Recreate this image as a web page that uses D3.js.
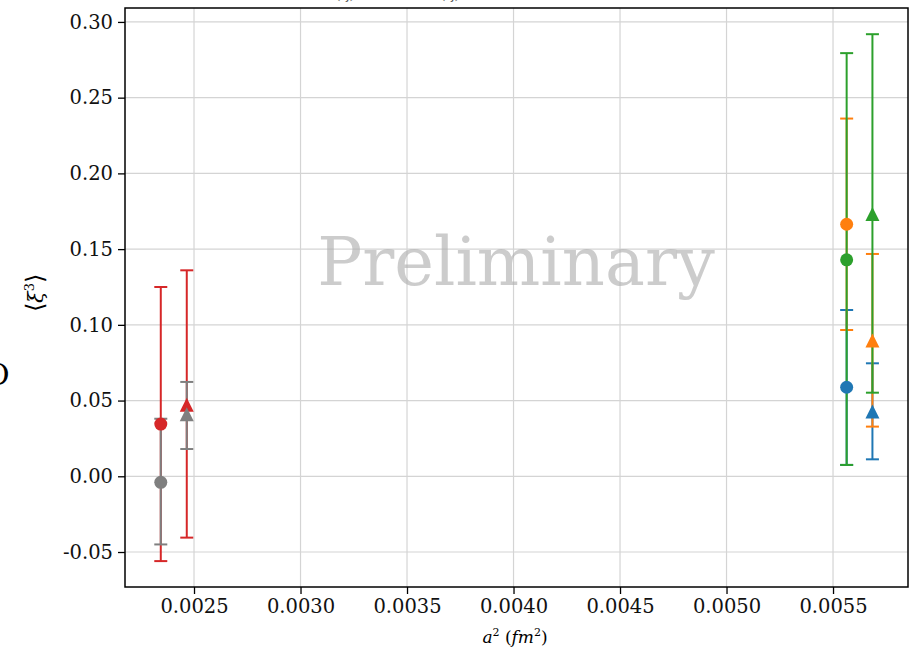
<!DOCTYPE html>
<html lang="en">
  <head>
    <meta charset="UTF-8" />
    <title>xi3 vs a2</title>
    <style>
      body { margin: 0; background: #fff; }
      svg text { font-family: "DejaVu Serif", serif; }
    </style>
  </head>
  <body>
    <script src="https://cdn.jsdelivr.net/npm/d3@7/dist/d3.min.js"></script>
    <script>
    // colours follow the matplotlib cycle: C0, C1, C2, C3, C7
    var colors = ["#1f77b4", "#ff7f0e", "#2ca02c", "#d62728", "#7f7f7f"];

    // circle points
    var circleX  = [0.005564, 0.005564, 0.005564, 0.002344, 0.002344];
    var circleY  = [0.0588, 0.1664, 0.1429, 0.0345, -0.0040];
    var circleLo = [0.0075, 0.0966, 0.0075, -0.0560, -0.0450];
    var circleHi = [0.1098, 0.2362, 0.2794, 0.1250, 0.0380];

    // triangle points
    var triX  = [0.005685, 0.005685, 0.005685, 0.002466, 0.002466];
    var triY  = [0.0427, 0.0896, 0.1732, 0.0472, 0.0410];
    var triLo = [0.0112, 0.0328, 0.0552, -0.0405, 0.0180];
    var triHi = [0.0746, 0.1468, 0.2919, 0.1360, 0.0623];

    var xTicks = [0.0025, 0.0030, 0.0035, 0.0040, 0.0045, 0.0050, 0.0055];
    var yTicks = [-0.05, 0.00, 0.05, 0.10, 0.15, 0.20, 0.25, 0.30];

    var W = 909, H = 657;
    var margin = { top: 8, right: 1, bottom: 70, left: 125 };
    var width = W - margin.left - margin.right;
    var height = H - margin.top - margin.bottom;

    var svg = d3.select("body").append("svg")
                .attr("width", W)
                .attr("height", H);

    var g = svg.append("g")
               .attr("transform", "translate(" + margin.left + "," + margin.top + ")");

    var xScale = d3.scaleLinear()
                   .domain([0.002176, 0.005852])
                   .range([0, width]);

    var yScale = d3.scaleLinear()
                   .domain([-0.0731, 0.3092])
                   .range([height, 0]);

    // grid
    g.append("g").selectAll("line").data(xTicks).enter().append("line")
      .attr("x1", function(d) { return xScale(d); })
      .attr("x2", function(d) { return xScale(d); })
      .attr("y1", 0).attr("y2", height)
      .attr("stroke", "#d4d4d4").attr("stroke-width", 1.2);
    g.append("g").selectAll("line").data(yTicks).enter().append("line")
      .attr("y1", function(d) { return yScale(d); })
      .attr("y2", function(d) { return yScale(d); })
      .attr("x1", 0).attr("x2", width)
      .attr("stroke", "#d4d4d4").attr("stroke-width", 1.2);

    // watermark
    g.append("text")
      .attr("x", 516 - margin.left)
      .attr("y", 285 - margin.top)
      .attr("text-anchor", "middle")
      .attr("font-size", 67)
      .attr("fill", "#b0b0b0")
      .attr("fill-opacity", 0.65)
      .text("Preliminary");

    // build rows
    var rows = [];
    colors.forEach(function(c, i) {
      rows.push({ c: c, x: circleX[i], y: circleY[i], lo: circleLo[i], hi: circleHi[i], m: "o" });
    });
    colors.forEach(function(c, i) {
      rows.push({ c: c, x: triX[i], y: triY[i], lo: triLo[i], hi: triHi[i], m: "^" });
    });
    // draw order of the bars: series by series, circle then triangle
    var barRows = [];
    colors.forEach(function(c, i) {
      barRows.push(rows[i]);
      barRows.push(rows[i + colors.length]);
    });

    var cap = 6.5;
    var bars = g.append("g");
    barRows.forEach(function(d) {
      var gg = bars.append("g").attr("stroke", d.c).attr("stroke-width", 2);
      gg.append("line")
        .attr("x1", xScale(d.x)).attr("x2", xScale(d.x))
        .attr("y1", yScale(d.lo)).attr("y2", yScale(d.hi));
      [d.lo, d.hi].forEach(function(v) {
        gg.append("line")
          .attr("x1", xScale(d.x) - cap).attr("x2", xScale(d.x) + cap)
          .attr("y1", yScale(v)).attr("y2", yScale(v));
      });
    });

    // markers above the bars
    var marks = g.append("g");
    barRows.forEach(function(d) {
      var cx = xScale(d.x), cy = yScale(d.y);
      if (d.m === "o") {
        marks.append("circle")
          .attr("cx", cx).attr("cy", cy).attr("r", 6.5)
          .attr("fill", d.c);
      } else {
        var s = 7;
        var p = d3.path();
        p.moveTo(cx, cy - s);
        p.lineTo(cx - s, cy + s);
        p.lineTo(cx + s, cy + s);
        p.closePath();
        marks.append("path").attr("d", p.toString()).attr("fill", d.c);
      }
    });

    // axes
    var xAxis = d3.axisBottom(xScale).tickValues(xTicks)
                  .tickFormat(d3.format(".4f")).tickSizeOuter(0).tickSize(7).tickPadding(5);
    var gx = g.append("g")
      .attr("transform", "translate(0," + height + ")")
      .call(xAxis);
    var yAxis = d3.axisLeft(yScale).tickValues(yTicks)
                  .tickFormat(function(d) { return d3.format(".2f")(d).replace("−", "-"); })
                  .tickSizeOuter(0).tickSize(7).tickPadding(5);
    var gy = g.append("g").call(yAxis);

    [gx, gy].forEach(function(a) {
      a.select(".domain").remove();
      a.selectAll(".tick line").attr("stroke", "#000").attr("stroke-width", 1.3);
      a.selectAll(".tick text").attr("font-size", 19.5)
        .attr("font-family", "DejaVu Serif").attr("fill", "#111");
    });

    // frame
    g.append("rect")
      .attr("x", 0).attr("y", 0)
      .attr("width", width).attr("height", height)
      .attr("fill", "none").attr("stroke", "#000").attr("stroke-width", 1.5);

    // axis labels
    var xl = svg.append("text")
      .attr("x", 515).attr("y", 643)
      .attr("text-anchor", "middle")
      .attr("font-size", 17).attr("font-style", "italic");
    xl.append("tspan").text("a");
    xl.append("tspan").attr("font-size", 11).attr("dy", -7).attr("font-style", "normal").text("2");
    xl.append("tspan").attr("dy", 7).attr("font-style", "normal").text(" (");
    xl.append("tspan").text("fm");
    xl.append("tspan").attr("font-size", 11).attr("dy", -7).attr("font-style", "normal").text("2");
    xl.append("tspan").attr("dy", 7).attr("font-style", "normal").text(")");

    var yl = svg.append("text")
      .attr("transform", "translate(43,293) rotate(-90)")
      .attr("text-anchor", "middle")
      .attr("font-size", 21)
      .attr("font-weight", 300);
    yl.append("tspan").attr("font-family", "DejaVu Sans").attr("font-size", 24).text("\u27E8");
    yl.append("tspan").attr("font-style", "italic").text("\u03BE");
    yl.append("tspan").attr("font-size", 13).attr("dy", -9).text("3");
    yl.append("tspan").attr("dy", 9).attr("font-family", "DejaVu Sans").attr("font-size", 24).text("\u27E9");

    // clipped bits of outer texts
    svg.append("text")
      .attr("x", -15).attr("y", 385)
      .attr("font-size", 30)
      .attr("font-family", "DejaVu Sans")
      .text("O");
    svg.append("text")
      .attr("x", 345).attr("y", -1)
      .attr("text-anchor", "middle")
      .attr("font-size", 15)
      .attr("fill", "#555")
      .text("(\u03BE)");
    svg.append("text")
      .attr("x", 450).attr("y", -1)
      .attr("text-anchor", "middle")
      .attr("font-size", 15)
      .attr("fill", "#555")
      .text("(\u03BE)");
    </script>
  </body>
</html>
